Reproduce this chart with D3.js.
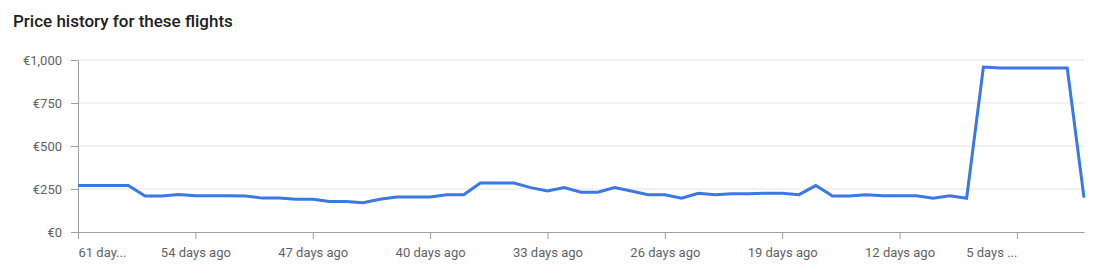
<!DOCTYPE html>
<html>
<head>
<meta charset="utf-8">
<script src="https://cdn.jsdelivr.net/npm/d3@7"></script>
<style>
  body { margin: 0; background: #fff; }
  svg { display: block; }
</style>
</head>
<body>
<svg id="svg1" width="1100" height="271"></svg>
<script>
// days before departure, oldest first
var daysAgo = [61, 60, 59, 58, 57, 56, 55, 54, 53, 52, 51, 50, 49, 48, 47, 46, 45, 44, 43, 42, 41,
    40, 39, 38, 37, 36, 35, 34, 33, 32, 31, 30, 29, 28, 27, 26, 25, 24, 23, 22, 21,
    20, 19, 18, 17, 16, 15, 14, 13, 12, 11, 10, 9, 8, 7, 6, 5, 4, 3, 2, 1];
// lowest price per day in euro
var prices = [270, 270, 270, 270, 209, 209, 218, 211, 211, 211, 209, 197, 197, 191, 191, 177, 177, 170, 190, 203, 203,
    203, 217, 217, 285, 285, 285, 258, 238, 258, 231, 231, 258, 238, 217, 217, 196, 225, 217, 223, 223,
    225, 225, 217, 270, 209, 209, 217, 211, 211, 211, 196, 211, 196, 959, 953, 953, 953, 953, 953, 200];
var xTickValues = [61, 54, 47, 40, 33, 26, 19, 12, 5];
var xTickLabels = ['61 day...', '54 days ago', '47 days ago', '40 days ago', '33 days ago', '26 days ago', '19 days ago', '12 days ago', '5 days ...'];
var yTickValues = [0, 250, 500, 750, 1000];

var svg = d3.select('#svg1');
var plotLeft = 78, plotRight = 1084, plotTop = 60, plotBottom = 232;

var x = d3.scaleLinear().domain([61, 1]).range([plotLeft, plotRight]);
var y = d3.scaleLinear().domain([0, 1000]).range([plotBottom, plotTop]);

svg.append('text')
    .attr('x', 13)
    .attr('y', 27)
    .attr('font-family', 'Roboto, sans-serif')
    .attr('font-weight', 500)
    .attr('font-size', 17)
    .attr('fill', '#202124')
    .text('Price history for these flights');

// gridlines
svg.append('g').selectAll('line').data(yTickValues.filter(function (d) { return d > 0; }))
    .enter().append('line')
    .attr('x1', plotLeft)
    .attr('x2', plotRight)
    .attr('y1', function (d) { return y(d); })
    .attr('y2', function (d) { return y(d); })
    .attr('stroke', '#e3e3e3')
    .attr('stroke-width', 1);

// y axis
var yAxis = svg.append('g')
    .attr('transform', 'translate(' + plotLeft + ',0)')
    .call(d3.axisLeft(y).tickValues(yTickValues).tickSize(7).tickSizeOuter(0).tickPadding(9)
        .tickFormat(function (d) { return '€' + d3.format(',')(d); }));
yAxis.select('.domain').attr('stroke', '#9aa0a6');
yAxis.selectAll('.tick line').attr('stroke', '#9aa0a6');
yAxis.selectAll('text')
    .attr('font-family', 'Roboto, sans-serif')
    .attr('font-size', 13)
    .attr('fill', '#5f6368');

// x axis
var xAxis = svg.append('g')
    .attr('transform', 'translate(0,' + plotBottom + ')')
    .call(d3.axisBottom(x).tickValues(xTickValues).tickSize(7).tickSizeOuter(0).tickPadding(9)
        .tickFormat(function (d, i) { return xTickLabels[i]; }));
xAxis.select('.domain').attr('stroke', '#9aa0a6');
xAxis.selectAll('.tick line').attr('stroke', '#9aa0a6');
xAxis.selectAll('text')
    .attr('font-family', 'Roboto, sans-serif')
    .attr('font-size', 13)
    .attr('fill', '#5f6368')
    .attr('text-anchor', function (d, i) {
        if (i == 0) return 'start';
        if (i == xTickValues.length - 1) return 'end';
        return 'middle';
    });

// price line
var line = d3.line()
    .x(function (d, i) { return x(daysAgo[i]); })
    .y(function (d) { return y(d); });

svg.append('path')
    .datum(prices)
    .attr('d', line)
    .attr('fill', 'none')
    .attr('stroke', '#3c78e2')
    .attr('stroke-width', 3)
    .attr('stroke-linejoin', 'miter');
</script>
</body>
</html>
